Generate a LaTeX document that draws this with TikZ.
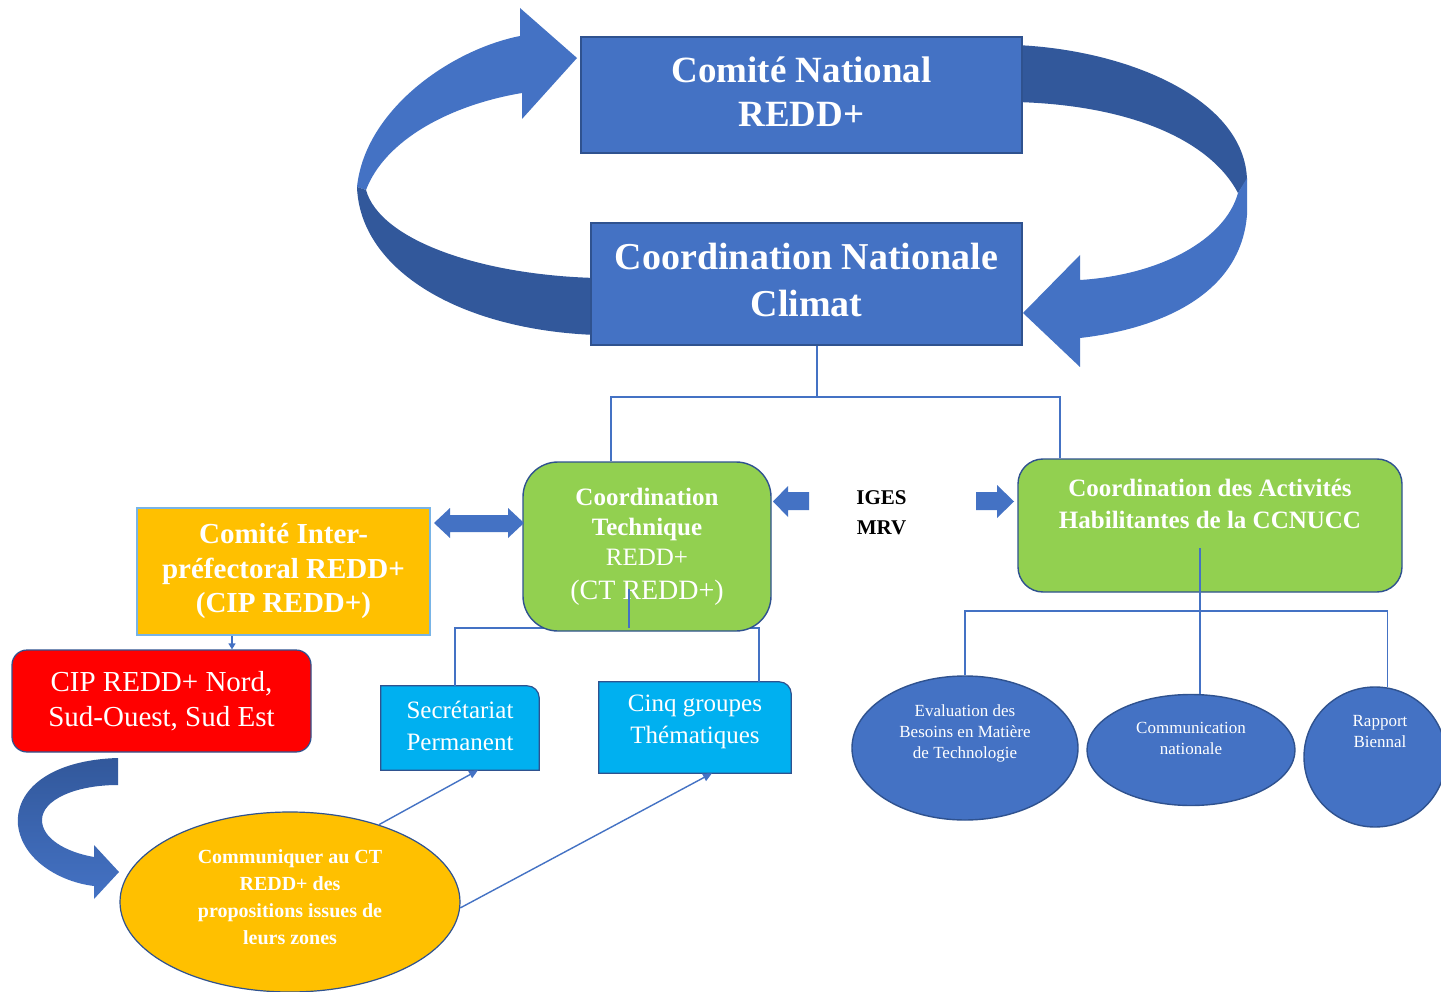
\documentclass[tikz,border=0pt]{standalone}
\usepackage{fontspec}
\setmainfont{Liberation Serif}
\usetikzlibrary{shapes.geometric,arrows.meta,calc}
\definecolor{cblue}{RGB}{68,114,196}
\definecolor{cbord}{RGB}{47,82,143}
\definecolor{cdark}{RGB}{50,88,155}
\definecolor{cgreen}{RGB}{146,208,80}
\definecolor{corange}{RGB}{255,192,0}
\definecolor{ccyan}{RGB}{0,176,240}
\definecolor{cipbord}{RGB}{120,180,230}
\newcommand\myfs[2]{\fontsize{#1}{#2}\selectfont}
\begin{document}
\begin{tikzpicture}[x=1pt,y=-1pt,
  conn/.style={draw=cblue, line width=1.4pt},
  connarrow/.style={conn, -{Triangle[length=9pt,width=8pt]}},
  bluebox/.style={rectangle, fill=cblue, draw=cbord, line width=1.5pt, inner sep=0, text=white, align=center},
  greenbox/.style={rectangle, rounded corners=#1, fill=cgreen, draw=cbord, line width=1.4pt, inner sep=0, text=white, align=center},
  blueell/.style={ellipse, fill=cblue, draw=cbord, line width=1.4pt, inner sep=0},
  elltext/.style={text=white, align=center, inner sep=0, font={\myfs{17}{21}}},
  cyantext/.style={text=white, align=center, inner sep=0, font={\myfs{25}{32}}},
  plainbox/.style={inner sep=0}
]
\useasboundingbox (0,0) rectangle (1441,992);
\fill[white] (0,0) rectangle (1441,992);

% ---- big curved arrows round the two national boxes
\fill[cblue] (520,36) -- (520,8) -- (577,58) -- (522,119) -- (522,93)
  .. controls (450,105) and (385,140) .. (366,190) -- (357,187)
  .. controls (365,110) and (450,50) .. (520,36) -- cycle;
\fill[cdark] (357,187) .. controls (360,270) and (460,330) .. (596,335)
  -- (596,278) .. controls (480,275) and (380,240) .. (366,190) -- cycle;
\fill[cdark] (1016,45) .. controls (1130,50) and (1245,100) .. (1247,180)
  -- (1238,193) .. controls (1210,140) and (1130,105) .. (1016,102) -- cycle;
\fill[cblue] (1247,178) -- (1247,215) .. controls (1240,300) and (1150,330) .. (1080,338)
  -- (1080,367) -- (1023,313) -- (1080,255) -- (1080,280)
  .. controls (1160,275) and (1225,240) .. (1238,193) -- cycle;

% ---- national boxes
\node[bluebox, minimum width=441pt, minimum height=116pt] (cn) at (801.5,95) {};
\node[text=white, align=center, inner sep=0, font={\myfs{37}{44}\bfseries}] (cnt) at (801.5,92) {Comité National\\REDD+};
\node[bluebox, minimum width=431pt, minimum height=122pt] (cnc) at (806.5,284) {};
\node[text=white, align=center, inner sep=0, font={\myfs{38}{47}\bfseries}] (cnct) at (806.5,280) {Coordination Nationale\\Climat};

% ---- secretariat and groups (one rounded corner)
\node[plainbox, minimum width=158pt, minimum height=84pt] (secr) at (460,728) {};
\filldraw[fill=ccyan, draw=cbord, line width=1.2pt] (secr.south west) -- (secr.north west)
  -- ([xshift=-12pt]secr.north east) arc[start angle=-90, end angle=0, radius=12] -- (secr.south east) -- cycle;
\node[cyantext] (secrt) at ([yshift=2pt]secr.center) {Secrétariat\\Permanent};
\node[plainbox, minimum width=192pt, minimum height=91pt] (cinq) at (695,727.5) {};
\filldraw[fill=ccyan, draw=cbord, line width=1.2pt] (cinq.south west) -- (cinq.north west)
  -- ([xshift=-12pt]cinq.north east) arc[start angle=-90, end angle=0, radius=12] -- (cinq.south east) -- cycle;
\node[cyantext] (cinqt) at ([yshift=5.5pt]cinq.center) {Cinq groupes\\Thématiques};

% ---- tree under CT (behind CT box)
\coordinate (j3) at (629,628);
\draw[conn] ([xshift=-5pt]secr.north) |- (j3) -| ([xshift=64pt]cinq.north);

% ---- technical coordination
\node[greenbox=35pt, minimum width=248pt, minimum height=169pt, font={\myfs{25}{30}}] (ct) at (647,546.5)
  {\textbf{Coordination}\\\textbf{Technique}\\REDD+\\[4pt]{\myfs{28}{30}(CT REDD+)}};
\draw[conn] ([xshift=-18pt,yshift=43pt]ct.south) -- (j3);

% ---- enabling activities
\node[greenbox=25pt, minimum width=384pt, minimum height=133pt] (cah) at (1210,525.5) {};
\node[text=white, align=center, inner sep=0, font={\myfs{25}{32}\bfseries}] (caht) at (1210,504)
  {Coordination des Activités\\Habilitantes de la CCNUCC};

% ---- top tree
\coordinate (j1) at (817,397);
\draw[conn] ([xshift=10.5pt]cnc.south) -- (j1) -| ([xshift=-36pt]ct.north);
\draw[conn] (j1) -| ([xshift=-150pt]cah.north);

% ---- IGES / MRV
\node[align=center, inner sep=0, font={\myfs{21}{30}\bfseries}] (iges) at (881.5,513) {IGES\\MRV};
\fill[cblue] (773,501.5) -- (788,486) -- (788,492) -- (809,492) -- (809,510) -- (788,510) -- (788,517) -- cycle;
\fill[cblue] (1014,501.5) -- (997,485) -- (997,492) -- (976,492) -- (976,510) -- (997,510) -- (997,518) -- cycle;

% ---- ellipses under CAH
\node[blueell, minimum width=226pt, minimum height=144pt] (eval) at (965,748) {};
\node[blueell, minimum width=208pt, minimum height=111pt] (comn) at (1191,750) {};
\node[blueell, minimum width=142pt, minimum height=140pt] (rapp) at (1375,757) {};
\node[elltext] (evalt) at (965,733) {Evaluation des\\Besoins en Matière\\de Technologie};
\node[elltext] (comnt) at (1191,738) {Communication\\nationale};
\node[elltext] (rappt) at (1380,732) {Rapport\\Biennal};
\coordinate (j2) at (1200,611);
\draw[conn] ([xshift=-10pt,yshift=-22.5pt]cah.center) -- (j2);
\draw[conn] (eval.north) |- (j2) -| (rapp.80);
\draw[conn] (j2) -- (j2 |- comn.north);

% ---- CIP
\node[rectangle, fill=corange, draw=cipbord, line width=2pt, minimum width=293pt, minimum height=127pt, inner sep=0,
  text=white, align=center, font={\myfs{29}{34.5}\bfseries}] (cip) at (283.5,571.5) {Comité Inter-\\préfectoral REDD+\\(CIP REDD+)};
\fill[cblue] (434,523) -- (450,508) -- (450,515) -- (508,515) -- (508,508) -- (524,523) -- (508,538) -- (508,532) -- (450,532) -- (450,538) -- cycle;
\node[rectangle, rounded corners=15pt, fill=red, draw=cbord, line width=1.2pt, minimum width=299pt, minimum height=102pt, inner sep=0,
  text=white, align=center, font={\myfs{29}{35}}] (nord) at (161.5,701) {CIP REDD+ Nord,\\Sud-Ouest, Sud Est};
\draw[conn, -{Triangle[length=6pt,width=7pt]}] ([xshift=-51.5pt]cip.south) -- ([xshift=70.5pt]nord.north);

% ---- bottom-left curved arrow
\shade[top color=cdark, bottom color=cblue] (118,758) -- (118,785)
  .. controls (75,785) and (42,800) .. (42,820) .. controls (42,838) and (65,852) .. (94,857)
  -- (94,845) -- (119,872) -- (94,899) -- (94,886)
  .. controls (60,882) and (22,860) .. (18,825) .. controls (15,790) and (50,760) .. (118,758) -- cycle;

% ---- communication ellipse
\node[ellipse, fill=corange, draw=cbord, line width=1.2pt, minimum width=340pt, minimum height=180pt, inner sep=0] (commu) at (290,902) {};
\node[text=white, align=center, inner sep=0, font={\myfs{20}{27}\bfseries}] (commut) at (290,897)
  {Communiquer au CT\\REDD+ des\\propositions issues de\\leurs zones};
\draw[connarrow] (commu.41) -- ([xshift=18pt]secr.south);
\draw[connarrow] (commu.-2) -- ([xshift=17pt]cinq.south);
\end{tikzpicture}
\end{document}
